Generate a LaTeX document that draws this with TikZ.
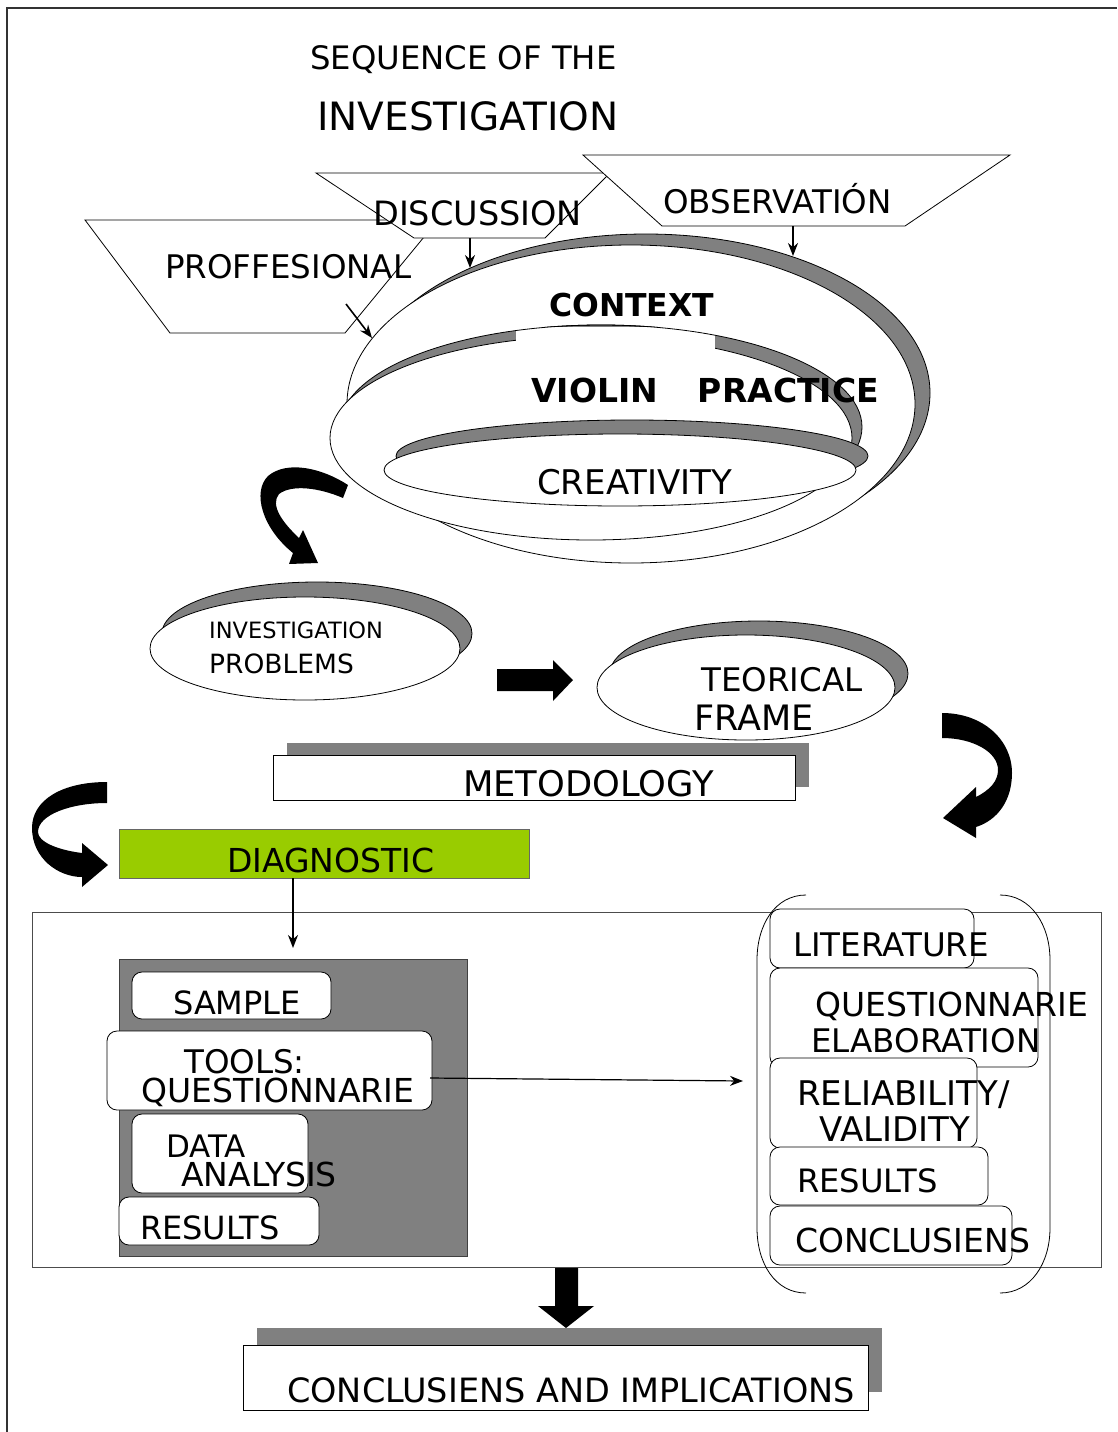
\documentclass[tikz,border=0pt]{standalone}
\usepackage{fontspec}
\setmainfont{DejaVu Sans}
\usetikzlibrary{shapes.geometric,arrows.meta}

\definecolor{shadowgrey}{HTML}{808080}
\definecolor{diaggreen}{HTML}{99CC00}

\tikzset{
  lbl/.style={inner sep=0pt, anchor=base west, font=\fontsize{33pt}{40pt}\selectfont},
  boldlbl/.style={lbl, font=\fontsize{32pt}{40pt}\selectfont\bfseries},
  trap/.style={draw=black, fill=white, line width=0.8pt},
  ell/.style={ellipse, draw=black, fill=white, line width=0.8pt, inner sep=0pt},
  ellshadow/.style={ellipse, draw=black, fill=shadowgrey, line width=0.8pt, inner sep=0pt},
  rbox/.style={draw=black, fill=white, rounded corners=10pt, line width=0.8pt},
  thinarrow/.style={-{Stealth[length=13pt,width=10pt]}, line width=1.6pt},
  blockarrow/.style={fill=black, draw=none},
}

\begin{document}
\begin{tikzpicture}[x=1pt,y=-1pt]
\useasboundingbox (0,0) rectangle (1117,1432);
% page edge
\draw[line width=1.5pt, black!80] (7,1432) -- (7,8) -- (1117,8);

% title
\node[lbl, font=\fontsize{32.3pt}{38pt}\selectfont] (title1) at (310,69) {SEQUENCE OF THE};
\node[lbl, font=\fontsize{39pt}{46pt}\selectfont] (title2) at (317,130) {INVESTIGATION};

% sources
\draw[trap] (85,220) -- (438,220) -- (345,333) -- (170,333) -- cycle;
\draw[trap] (316,173) -- (610,173) -- (545,238) -- (414,238) -- cycle;
\draw[trap] (583,155) -- (1010,155) -- (905,226) -- (662,226) -- cycle;
\node[lbl, font=\fontsize{32.5pt}{38pt}\selectfont] (prof) at (165,278) {PROFFESIONAL};
\node[lbl, font=\fontsize{33.5pt}{38pt}\selectfont] (disc) at (373,225) {DISCUSSION};
\node[lbl, font=\fontsize{32.5pt}{38pt}\selectfont] (obs) at (663,213) {OBSERVATIÓN};

% context
\node[ellshadow, minimum width=568pt, minimum height=318pt] (ctxs) at (646,393) {};
\node[ell, minimum width=568pt, minimum height=318pt] (ctx) at (631,404) {};
% violin practice
\node[ellshadow, minimum width=522pt, minimum height=204pt] (vios) at (601,427) {};
\node[ell, minimum width=522pt, minimum height=204pt] (vio) at (591,438) {};
\fill[white] (516,327) rectangle (715,365);
\begin{scope}
  \clip (516,315) rectangle (715,336);
  \node[ellipse, draw=black, line width=0.8pt, inner sep=0pt,
        minimum width=522pt, minimum height=204pt] at (601,427) {};
\end{scope}
% creativity
\node[ellshadow, minimum width=472pt, minimum height=72pt] (creas) at (632,456) {};
\node[ell, minimum width=472pt, minimum height=72pt] (crea) at (620,470) {};

\node[boldlbl, font=\fontsize{31.5pt}{38pt}\selectfont\bfseries] (context) at (549,316) {CONTEXT};
\node[boldlbl, font=\fontsize{33pt}{38pt}\selectfont\bfseries] (violin) at (531,402) {VIOLIN\hspace{40pt}PRACTICE};
\node[lbl, font=\fontsize{34pt}{40pt}\selectfont] (creatxt) at (537,494) {CREATIVITY};

% arrows into context
\coordinate (prof out) at (346,304);
\coordinate (disc out) at (470,238);
\coordinate (obs out) at (793,226);
\coordinate (ctx in a) at (372,338);
\coordinate (ctx in b) at (470,268);
\coordinate (ctx in c) at (793,256);
\draw[thinarrow] (prof out) -- (ctx in a);
\draw[thinarrow] (disc out) -- (ctx in b);
\draw[thinarrow] (obs out) -- (ctx in c);

% context -> problems
\fill[blockarrow] (348,485) .. controls (322,468) and (287,460) .. (268,476)
  .. controls (252,492) and (262,528) .. (293,553) -- (289,564) -- (318,563)
  -- (303,530) -- (299,538) .. controls (282,522) and (270,505) .. (279,494)
  .. controls (292,484) and (320,488) .. (343,498) -- cycle;

% investigation problems
\node[ellshadow, minimum width=310pt, minimum height=103pt] (probs) at (317,633.5) {};
\node[ell, minimum width=310pt, minimum height=103pt] (prob) at (305,648.5) {};
\node[lbl, font=\fontsize{22.5pt}{27pt}\selectfont] (prob1) at (209,638) {INVESTIGATION};
\node[lbl, font=\fontsize{26.5pt}{32pt}\selectfont] (prob2) at (209,673) {PROBLEMS};

% problems -> frame
\fill[blockarrow] (497,669) -- (553,669) -- (553,660) -- (573,680) -- (553,701)
  -- (553,691) -- (497,691) -- cycle;

% teorical frame
\node[ellshadow, minimum width=298pt, minimum height=105pt] (teos) at (759,673.5) {};
\node[ell, minimum width=298pt, minimum height=105pt] (teo) at (746,687.5) {};
\node[lbl, font=\fontsize{32.5pt}{38pt}\selectfont] (teo1) at (701,691) {TEORICAL};
\node[lbl, font=\fontsize{35pt}{40pt}\selectfont] (teo2) at (694,730) {FRAME};

% frame -> metodology
\fill[blockarrow] (942,713) .. controls (983,713) and (1012,740) .. (1012,773)
  .. controls (1012,800) and (998,820) .. (976,827) -- (976,838) -- (943,818)
  -- (976,787) -- (976,797) .. controls (990,790) and (998,781) .. (998,770)
  .. controls (998,752) and (973,738) .. (942,738) -- cycle;

% metodology
\fill[shadowgrey] (287,743) rectangle (809,787);
\draw[fill=white, line width=0.8pt] (273,755) rectangle (795,800);
\node[lbl, font=\fontsize{35.3pt}{40pt}\selectfont] (meto) at (463,796) {METODOLOGY};

% metodology -> diagnostic
\fill[blockarrow] (107,782) .. controls (62,782) and (32,800) .. (32,828)
  .. controls (32,858) and (58,877) .. (82,877) -- (82,887) -- (108,865)
  -- (82,843) -- (82,853) .. controls (58,850) and (38,842) .. (38,832)
  .. controls (38,815) and (70,803) .. (107,803) -- cycle;

% diagnostic
\draw[fill=diaggreen, draw=black!60, line width=0.8pt] (119,829) rectangle (529,878);
\node[lbl] (diag) at (227,872) {DIAGNOSTIC};

% frame round the study
\draw[black!70, line width=0.8pt] (32,912) rectangle (1101,1267);

\coordinate (diag out) at (293,878);
\coordinate (panel in) at (293,948);
\draw[thinarrow] (diag out) -- (panel in);

% left panel
\draw[fill=shadowgrey, draw=black!75, line width=0.8pt] (119,959) rectangle (467,1256);
\draw[rbox] (132,972) rectangle (331,1019);
\node[lbl, font=\fontsize{32pt}{38pt}\selectfont] (sample) at (173,1014) {SAMPLE};
\draw[rbox] (107,1031) rectangle (432,1110);
\node[lbl, font=\fontsize{32.5pt}{38pt}\selectfont] (tools1) at (184,1073) {TOOLS:};
\node[lbl, font=\fontsize{33pt}{38pt}\selectfont] (tools2) at (141,1102) {QUESTIONNARIE};
\draw[rbox] (132,1114) rectangle (308,1193);
\node[lbl, font=\fontsize{31pt}{38pt}\selectfont] (data1) at (166,1157) {DATA};
\node[lbl, font=\fontsize{33pt}{38pt}\selectfont] (data2) at (181,1186) {ANALYSIS};
\draw[rbox] (119,1197) rectangle (319,1245);
\node[lbl, font=\fontsize{32pt}{38pt}\selectfont] (res1) at (140,1239) {RESULTS};

% tools -> list
\coordinate (tools out) at (430,1078);
\coordinate (list in) at (743,1081);
\draw[thinarrow, line width=1.2pt] (tools out) -- (list in);

% right list
\draw[rbox] (770,909) rectangle (974,968);
\node[lbl, font=\fontsize{32.5pt}{38pt}\selectfont] (lit) at (793,956) {LITERATURE};
\draw[rbox] (770,968) rectangle (1038,1067);
\node[lbl, font=\fontsize{33pt}{38pt}\selectfont] (quest1) at (815,1016) {QUESTIONNARIE};
\node[lbl, font=\fontsize{32.5pt}{38pt}\selectfont] (quest2) at (811,1052) {ELABORATION};
\draw[rbox] (770,1058) rectangle (977,1148);
\node[lbl, font=\fontsize{34pt}{38pt}\selectfont] (rel1) at (797,1105) {RELIABILITY/};
\node[lbl, font=\fontsize{34pt}{38pt}\selectfont] (rel2) at (819,1141) {VALIDITY};
\draw[rbox] (770,1147) rectangle (988,1205);
\node[lbl, font=\fontsize{32.2pt}{38pt}\selectfont] (res2) at (797,1192) {RESULTS};
\draw[rbox] (770,1206) rectangle (1012,1265);
\node[lbl, font=\fontsize{33pt}{38pt}\selectfont] (concl) at (795,1252) {CONCLUSIENS};

% brackets
\draw[line width=0.8pt] (806,895) .. controls (775,895) and (757,925) .. (757,960)
  -- (757,1228) .. controls (757,1263) and (775,1293) .. (806,1293);
\draw[line width=0.8pt] (1000,895) .. controls (1031,895) and (1050,925) .. (1050,960)
  -- (1050,1228) .. controls (1050,1263) and (1031,1293) .. (1000,1293);

% study -> conclusions
\fill[blockarrow] (555,1268) -- (578,1268) -- (578,1306) -- (594,1306) -- (566,1328)
  -- (538,1306) -- (555,1306) -- cycle;

% conclusions
\fill[shadowgrey] (257,1328) rectangle (882,1392);
\draw[fill=white, line width=0.8pt] (243,1345) rectangle (868,1410);
\node[lbl, font=\fontsize{33.5pt}{40pt}\selectfont] (final) at (287,1402) {CONCLUSIENS AND IMPLICATIONS};
\end{tikzpicture}
\end{document}
